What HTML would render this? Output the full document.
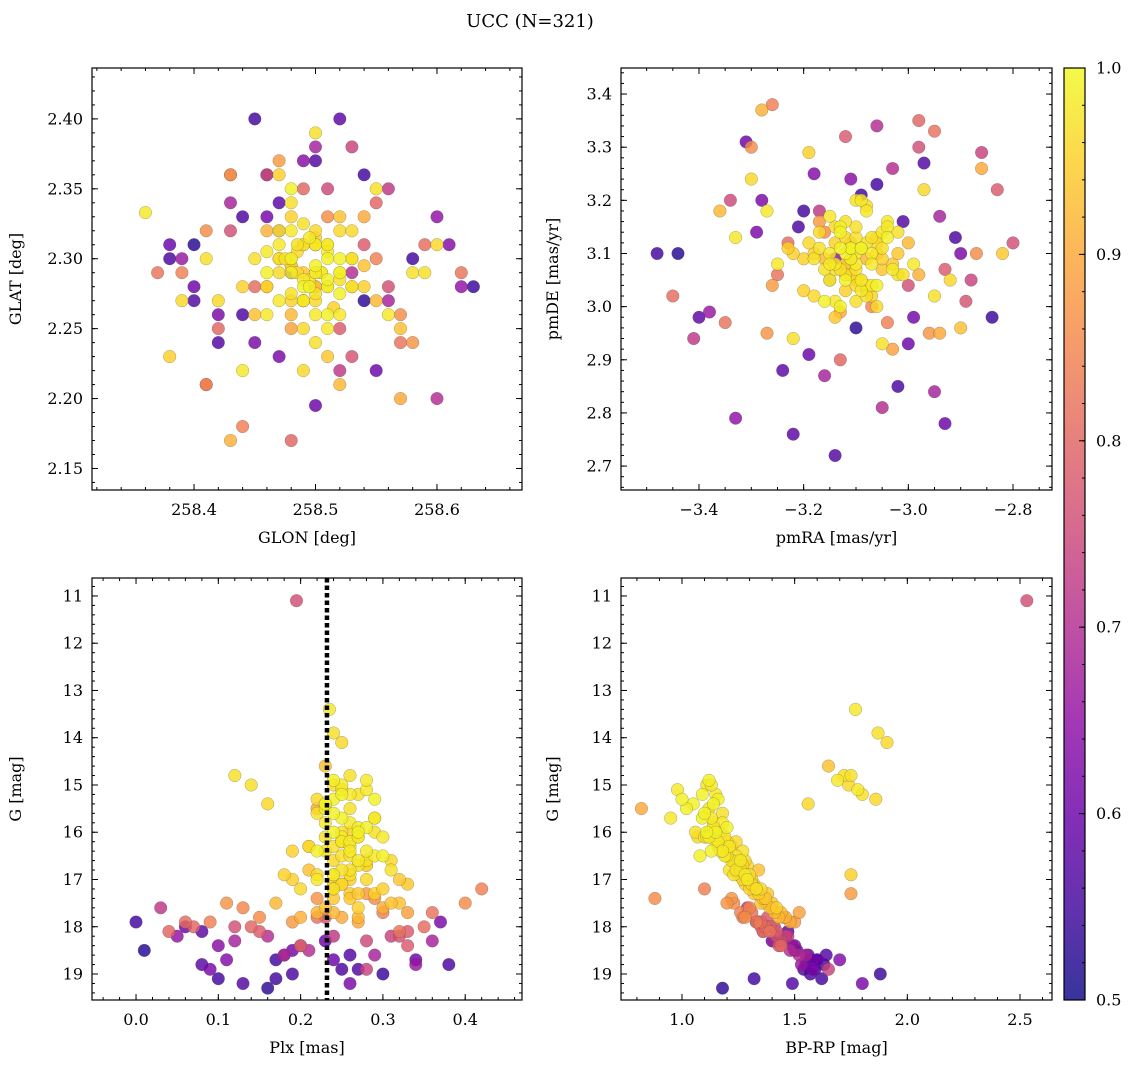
<!DOCTYPE html>
<html><head><meta charset="utf-8">
<style>
html,body{margin:0;padding:0;background:#fff;}
svg{display:block;font-family:"DejaVu Serif","Liberation Serif",serif;}
</style></head>
<body>
<svg id="fig" width="1136" height="1067" viewBox="0 0 1136 1067" xmlns="http://www.w3.org/2000/svg">
<defs>
<linearGradient id="cbgrad" x1="0" y1="1" x2="0" y2="0">
<stop offset="0" stop-color="#0d0887"/><stop offset="0.1" stop-color="#41049d"/><stop offset="0.2" stop-color="#6a00a8"/><stop offset="0.3" stop-color="#8f0da4"/><stop offset="0.4" stop-color="#b12a90"/><stop offset="0.5" stop-color="#cc4778"/><stop offset="0.6" stop-color="#e16462"/><stop offset="0.7" stop-color="#f2844b"/><stop offset="0.8" stop-color="#fca636"/><stop offset="0.9" stop-color="#fcce25"/><stop offset="1" stop-color="#f0f921"/>
</linearGradient>
</defs>
<text x="530" y="27" font-size="18" text-anchor="middle">UCC (N=321)</text>
</svg>
<script>
// member stars, field stars, then extra core members
const glon=[258.48,258.50,258.49,258.51,258.47,258.52,258.46,258.53,258.50,258.48,258.49,258.51,258.47,258.50,258.52,258.48,258.45,258.54,258.49,258.50,258.46,258.51,258.48,258.53,258.47,258.50,258.49,258.52,258.44,258.55,258.48,258.51,258.50,258.47,258.49,258.53,258.46,258.50,258.52,258.48,258.36,258.58,258.42,258.57,258.41,258.60,258.44,258.55,258.39,258.56,258.50,258.49,258.47,258.51,258.48,258.52,258.46,258.50,258.53,258.45,258.43,258.57,258.52,258.48,258.38,258.54,258.47,258.59,258.43,258.51,
258.45,258.40,258.56,258.62,258.38,258.52,258.47,258.58,258.43,258.50,258.41,258.54,258.60,258.44,258.49,258.37,258.55,258.42,258.53,258.63,258.46,258.39,258.57,258.51,258.44,258.48,258.61,258.42,258.54,258.47,258.50,258.40,258.56,258.43,258.52,258.59,258.45,258.38,258.55,258.49,258.41,258.53,258.46,258.58,258.44,258.51,258.62,258.40,258.48,258.55,258.43,258.57,258.47,258.52,258.39,258.50,258.45,258.60,258.42,258.54,258.49,258.46,258.53,258.41,258.56,
258.49,258.50,258.48,258.51,258.495,258.485,258.505,258.47,258.52,258.49,258.50,258.48,258.51,258.46,258.53,258.495,258.50,258.485,258.475,258.515,258.49,258.50,258.48,258.51,258.47,258.52,258.49,258.505,258.485,258.50,258.46,258.54,258.48,258.51,258.495,258.47,258.52,258.50,258.49,258.48];
const glat=[2.30,2.29,2.31,2.28,2.27,2.32,2.29,2.30,2.26,2.33,2.28,2.31,2.30,2.27,2.29,2.32,2.30,2.28,2.25,2.31,2.26,2.30,2.34,2.28,2.31,2.24,2.29,2.33,2.28,2.27,2.35,2.25,2.31,2.29,2.27,2.30,2.32,2.28,2.26,2.29,2.333,2.29,2.27,2.25,2.30,2.31,2.22,2.35,2.27,2.26,2.39,2.22,2.36,2.23,2.30,2.29,2.28,2.31,2.32,2.26,2.17,2.20,2.21,2.25,2.23,2.33,2.37,2.29,2.36,2.28,
2.40,2.31,2.35,2.28,2.31,2.40,2.23,2.30,2.34,2.37,2.21,2.27,2.20,2.33,2.35,2.29,2.22,2.26,2.38,2.28,2.36,2.30,2.24,2.33,2.18,2.29,2.31,2.25,2.36,2.32,2.195,2.27,2.27,2.36,2.25,2.31,2.24,2.30,2.34,2.37,2.21,2.29,2.33,2.24,2.26,2.35,2.29,2.28,2.17,2.30,2.32,2.26,2.34,2.22,2.29,2.38,2.28,2.33,2.24,2.31,2.27,2.36,2.23,2.32,2.28,
2.285,2.295,2.275,2.305,2.28,2.31,2.29,2.30,2.285,2.27,2.32,2.295,2.26,2.305,2.28,2.315,2.275,2.29,2.30,2.265,2.31,2.28,2.295,2.285,2.32,2.30,2.27,2.29,2.305,2.315,2.28,2.295,2.26,2.31,2.285,2.30,2.275,2.29,2.325,2.27];
const pmra=[-3.12,-3.10,-3.08,-3.15,-3.05,-3.18,-3.13,-3.02,-3.09,-3.20,-3.11,-3.07,-3.14,-3.06,-3.16,-3.04,-3.10,-3.12,-3.19,-3.03,-3.08,-3.13,-3.01,-3.17,-3.11,-3.05,-3.14,-3.09,-3.22,-3.00,-3.06,-3.15,-3.10,-3.12,-3.07,-3.18,-2.98,-3.13,-3.04,-3.11,-3.25,-2.95,-3.30,-2.90,-3.22,-2.97,-3.27,-3.05,-2.92,-3.33,-3.16,-3.08,-3.20,-3.02,-3.14,-3.10,-3.23,-2.99,-3.06,-3.12,-3.28,-2.86,-3.36,-3.03,-3.19,-2.94,-3.26,-3.10,-3.17,-2.82,
-3.48,-3.44,-3.41,-3.33,-3.31,-3.24,-3.28,-3.20,-3.16,-3.14,-3.12,-3.10,-3.06,-3.02,-2.98,-2.95,-2.93,-2.90,-2.86,-2.84,-2.80,-3.38,-3.35,-3.30,-3.26,-3.22,-3.18,-3.13,-3.09,-3.05,-3.00,-2.97,-2.94,-2.88,-2.83,-3.45,-3.29,-3.21,-3.15,-3.11,-3.07,-3.03,-2.99,-2.96,-2.91,-3.34,-3.25,-3.19,-3.12,-3.04,-2.98,-2.87,-3.40,-3.17,-3.08,-2.95,-3.23,-3.14,-3.01,-2.93,-3.27,-3.06,-2.89,-3.16,-3.00,
-3.11,-3.09,-3.13,-3.07,-3.12,-3.10,-3.14,-3.06,-3.08,-3.15,-3.11,-3.05,-3.13,-3.09,-3.17,-3.03,-3.10,-3.12,-3.08,-3.14,-3.06,-3.11,-3.16,-3.04,-3.09,-3.13,-3.07,-3.12,-3.10,-3.18,-3.05,-3.11,-3.08,-3.14,-3.02,-3.12,-3.09,-3.15,-3.07,-3.10];
const pmde=[3.10,3.08,3.12,3.05,3.14,3.02,3.15,3.06,3.20,3.09,3.11,3.04,3.07,3.13,3.01,3.16,3.10,3.03,3.12,3.08,3.18,3.00,3.06,3.14,3.09,3.11,2.98,3.05,3.10,3.12,3.04,3.17,3.07,3.13,3.02,3.09,3.06,2.99,3.15,3.11,3.08,3.02,3.24,2.96,2.94,3.22,3.18,2.93,3.05,3.13,3.07,3.19,3.03,3.10,3.15,3.01,3.11,3.08,3.00,3.06,3.37,3.26,3.18,2.92,3.29,2.95,3.04,3.20,3.16,3.10,
3.10,3.10,2.94,2.79,3.31,2.88,3.20,3.18,2.87,2.72,3.32,2.96,3.34,2.85,3.35,3.33,2.78,3.10,3.29,2.98,3.12,2.99,2.97,3.30,3.38,2.76,3.25,2.90,3.21,2.81,2.93,3.27,3.17,3.05,3.22,3.02,3.14,3.15,3.05,3.24,3.00,3.26,2.98,2.95,3.13,3.20,3.06,2.91,3.08,2.97,3.30,3.10,2.98,3.18,3.03,2.84,3.12,3.09,3.16,3.07,2.95,3.23,3.01,3.14,3.04,
3.09,3.11,3.07,3.10,3.05,3.13,3.08,3.12,3.04,3.10,3.06,3.09,3.14,3.03,3.11,3.07,3.15,3.08,3.02,3.12,3.10,3.06,3.09,3.13,3.05,3.11,3.08,3.16,3.04,3.10,3.07,3.12,3.09,3.01,3.14,3.06,3.11,3.08,3.13,3.05];
const plx=[0.24,0.26,0.22,0.28,0.25,0.21,0.30,0.27,0.24,0.19,0.23,0.26,0.29,0.25,0.22,0.27,0.31,0.24,0.20,0.26,0.28,0.23,0.25,0.21,0.29,0.26,0.24,0.32,0.27,0.22,0.25,0.30,0.23,0.28,0.26,0.24,0.20,0.27,0.25,0.29,0.235,0.24,0.25,0.23,0.26,0.24,0.25,0.27,0.22,0.28,0.12,0.16,0.18,0.33,0.31,0.14,0.19,0.29,0.27,0.21,0.30,0.25,0.17,0.33,0.26,0.22,0.28,0.24,0.19,0.32,
0.00,0.01,0.03,0.05,0.06,0.08,0.09,0.10,0.12,0.13,0.15,0.16,0.18,0.19,0.20,0.22,0.24,0.26,0.28,0.30,0.32,0.34,0.36,0.40,0.42,0.08,0.11,0.14,0.17,0.21,0.23,0.27,0.29,0.31,0.33,0.35,0.37,0.38,0.07,0.10,0.13,0.16,0.19,0.22,0.25,0.28,0.32,0.34,0.04,0.09,0.12,0.15,0.18,0.24,0.30,0.36,0.06,0.20,0.26,0.33,0.11,0.17,0.23,0.29,0.195,
0.25,0.24,0.26,0.23,0.27,0.25,0.28,0.24,0.26,0.22,0.25,0.29,0.24,0.27,0.23,0.26,0.25,0.28,0.24,0.30,0.26,0.23,0.27,0.25,0.29,0.24,0.26,0.28,0.22,0.25,0.27,0.31,0.24,0.26,0.25,0.28,0.23,0.27,0.26,0.24];
const gmag=[14.9,15.2,15.6,15.9,16.1,16.3,16.5,16.7,16.9,17.0,15.4,15.8,16.0,16.2,16.4,16.6,16.8,17.1,17.2,17.3,15.1,15.5,16.0,16.3,16.5,16.9,17.4,17.5,17.6,17.7,15.7,16.1,16.4,16.7,17.0,17.2,17.8,17.9,16.2,15.3,13.4,13.9,14.1,14.6,14.8,15.0,15.1,15.2,15.3,14.9,14.8,15.4,16.9,17.1,16.6,15.0,16.4,15.7,16.1,16.8,17.6,17.8,17.5,17.7,16.0,15.5,17.3,16.3,17.9,17.0,
17.9,18.5,17.6,18.2,18.0,18.8,18.9,19.1,18.3,19.2,18.1,19.3,18.6,19.0,18.4,17.8,18.7,19.2,18.9,19.0,18.2,18.8,17.7,17.5,17.2,18.1,18.7,18.0,19.1,18.5,18.3,18.9,18.6,18.2,18.4,18.0,17.9,18.8,18.0,18.4,17.6,18.2,18.5,17.4,18.9,18.3,18.1,18.7,18.1,17.9,18.0,17.8,18.6,18.2,17.7,18.3,17.9,18.4,18.6,18.1,17.5,18.7,17.8,17.4,11.1,
15.0,15.3,15.5,15.8,16.0,16.2,16.4,16.6,16.8,17.0,17.1,17.3,15.6,15.9,16.1,16.3,16.5,16.7,16.9,17.2,17.4,17.6,17.8,15.2,15.7,16.0,16.2,16.6,16.9,17.1,17.3,17.5,17.7,16.4,16.8,17.0,15.4,16.1,16.5,17.2];
const bprp=[1.12,1.15,1.18,1.20,1.10,1.22,1.08,1.25,1.28,1.30,1.05,1.14,1.17,1.24,1.13,1.26,1.21,1.32,1.35,1.38,0.98,1.02,1.06,1.16,1.19,1.23,1.36,1.40,1.42,1.44,1.09,1.11,1.27,1.29,1.31,1.33,1.46,1.48,1.15,1.00,1.77,1.87,1.91,1.65,1.72,1.74,1.78,1.80,1.86,1.69,1.75,1.56,1.75,1.30,1.28,1.11,1.20,0.95,1.07,1.34,1.40,1.45,1.37,1.52,1.12,0.82,1.75,1.18,1.50,1.27,
1.33,1.50,1.29,1.45,1.38,1.55,1.58,1.62,1.41,1.49,1.36,1.18,1.52,1.57,1.44,1.27,1.60,1.80,1.65,1.88,1.42,1.53,1.31,1.23,1.10,1.47,1.70,1.35,1.32,1.48,1.40,1.59,1.55,1.46,1.43,1.37,1.34,1.63,1.39,1.50,1.30,1.46,1.51,1.22,1.54,1.44,1.39,1.57,1.36,1.33,1.41,1.28,1.56,1.47,1.26,1.45,1.35,1.49,1.64,1.42,1.20,1.60,1.38,0.88,2.53,
1.13,1.16,1.12,1.18,1.15,1.20,1.17,1.23,1.26,1.29,1.31,1.34,1.10,1.14,1.19,1.21,1.24,1.27,1.30,1.33,1.37,1.39,1.43,1.09,1.13,1.11,1.16,1.22,1.25,1.28,1.32,1.35,1.41,1.18,1.24,1.27,1.14,1.12,1.20,1.30];
const prob=[.99,.98,.97,.99,.98,.96,.99,.97,.98,.95,.99,.98,.97,.96,.99,.98,.97,.95,.96,.94,.98,.99,.97,.96,.98,.97,.94,.93,.95,.92,.99,.98,.97,.96,.95,.97,.91,.90,.98,.99,.98,.97,.96,.93,.97,.96,.98,.97,.96,.98,.97,.96,.95,.94,.96,.97,.95,.98,.96,.93,.91,.90,.92,.89,.95,.90,.88,.97,.88,.94,
.55,.52,.72,.65,.60,.58,.62,.55,.68,.57,.78,.53,.70,.56,.80,.82,.60,.62,.74,.54,.76,.66,.82,.86,.84,.58,.63,.80,.55,.70,.60,.57,.68,.74,.78,.81,.62,.56,.80,.64,.85,.70,.61,.87,.56,.75,.82,.60,.80,.84,.76,.86,.58,.72,.84,.68,.81,.65,.57,.78,.87,.55,.77,.86,.76,
.98,.99,.97,.98,.99,.97,.98,.96,.97,.98,.96,.95,.99,.98,.97,.98,.97,.96,.97,.95,.94,.93,.92,.99,.98,.99,.98,.97,.96,.95,.94,.93,.92,.98,.97,.96,.99,.98,.97,.95];
const plxLine=0.232;
const xTicks1=[258.4,258.5,258.6], yTicks1=[2.15,2.20,2.25,2.30,2.35,2.40];
const xTicks2=[-3.4,-3.2,-3.0,-2.8], yTicks2=[2.7,2.8,2.9,3.0,3.1,3.2,3.3,3.4];
const xTicks3=[0.0,0.1,0.2,0.3,0.4], yTicks3=[11,12,13,14,15,16,17,18,19];
const xTicks4=[1.0,1.5,2.0,2.5], yTicks4=yTicks3;
const cbTicks=[0.5,0.6,0.7,0.8,0.9,1.0];

const NS="http://www.w3.org/2000/svg";
const svg=document.getElementById('fig');
function mk(tag,attrs,parent){const e=document.createElementNS(NS,tag);for(const k in attrs)e.setAttribute(k,attrs[k]);(parent||svg).appendChild(e);return e;}
const stops=[[0,13,8,135],[.1,65,4,157],[.2,106,0,168],[.3,143,13,164],[.4,177,42,144],[.5,204,71,120],[.6,225,100,98],[.7,242,132,75],[.8,252,166,54],[.9,252,206,37],[1,240,249,33]];
function plasma(v){let t=Math.max(0,Math.min(1,(v-0.5)/0.5));for(let i=1;i<stops.length;i++){if(t<=stops[i][0]){const a=stops[i-1],b=stops[i],f=(t-a[0])/(b[0]-a[0]);return `rgb(${Math.round(a[1]+f*(b[1]-a[1]))},${Math.round(a[2]+f*(b[2]-a[2]))},${Math.round(a[3]+f*(b[3]-a[3]))})`;}}return 'rgb(240,249,33)';}
function fmt(v,d){const s=v.toFixed(d);return s.startsWith('-')?'\u2212'+s.slice(1):s;}

const FS=16;
const panels=[
 {id:'glon-glat',L:92,R:522,T:68,B:490,x0:258.316,x1:258.670,y0:2.1346,y1:2.4364,inv:false,xs:glon,ys:glat,xt:xTicks1,yt:yTicks1,xd:1,yd:2,xmin:0.02,ymin:0.01,xl:'GLON [deg]',yl:'GLAT [deg]'},
 {id:'pmra-pmde',L:621,R:1052,T:68,B:490,x0:-3.549,x1:-2.7255,y0:2.655,y1:3.449,inv:false,xs:pmra,ys:pmde,xt:xTicks2,yt:yTicks2,xd:1,yd:1,xmin:0.05,ymin:0.02,xl:'pmRA [mas/yr]',yl:'pmDE [mas/yr]'},
 {id:'plx-g',L:92,R:522,T:578,B:1000,x0:-0.0535,x1:0.469,y0:10.62,y1:19.55,inv:true,xs:plx,ys:gmag,xt:xTicks3,yt:yTicks3,xd:1,yd:0,xmin:0.02,ymin:0.2,xl:'Plx [mas]',yl:'G [mag]'},
 {id:'bprp-g',L:621,R:1052,T:578,B:1000,x0:0.7294,x1:2.642,y0:10.62,y1:19.55,inv:true,xs:bprp,ys:gmag,xt:xTicks4,yt:yTicks4,xd:1,yd:0,xmin:0.1,ymin:0.2,xl:'BP-RP [mag]',yl:'G [mag]'}
];
const order=prob.map((p,i)=>i).sort((a,b)=>prob[a]-prob[b]);
panels.forEach((p,pi)=>{
 const sx=v=>p.L+(v-p.x0)/(p.x1-p.x0)*(p.R-p.L);
 const sy=v=>p.inv? p.T+(v-p.y0)/(p.y1-p.y0)*(p.B-p.T) : p.B-(v-p.y0)/(p.y1-p.y0)*(p.B-p.T);
 const g=mk('g',{});
 
 
 const cp=mk('clipPath',{id:'clip'+pi},g);
 mk('rect',{x:p.L,y:p.T,width:p.R-p.L,height:p.B-p.T},cp);
 const pts=mk('g',{'clip-path':`url(#clip${pi})`},g);
 
 
 const n=Math.min(p.xs.length,p.ys.length,prob.length);
 order.forEach(i=>{ if(i>=n) return;
  const c=mk('circle',{cx:sx(p.xs[i]).toFixed(1),cy:sy(p.ys[i]).toFixed(1),r:6.3,fill:plasma(prob[i]),'fill-opacity':0.82,stroke:'rgba(70,70,70,0.45)','stroke-width':0.5},pts);
  
  
 });
 if(pi===2){
  const ln=mk('line',{x1:sx(plxLine),x2:sx(plxLine),y1:p.T,y2:p.B,stroke:'#000','stroke-width':4.5,'stroke-dasharray':'4.5 3'},g);
  
  
 }
 const tk=mk('g',{stroke:'#000','stroke-width':1},g);
 const xr=[Math.min(p.x0,p.x1),Math.max(p.x0,p.x1)];
 for(let v=Math.ceil(xr[0]/p.xmin-1e-6)*p.xmin; v<=xr[1]+1e-9; v+=p.xmin){const x=sx(v);mk('line',{x1:x,x2:x,y1:p.B,y2:p.B-3},tk);mk('line',{x1:x,x2:x,y1:p.T,y2:p.T+3},tk);}
 for(let v=Math.ceil(p.y0/p.ymin-1e-6)*p.ymin; v<=p.y1+1e-9; v+=p.ymin){const y=sy(v);mk('line',{x1:p.L,x2:p.L+3,y1:y,y2:y},tk);mk('line',{x1:p.R,x2:p.R-3,y1:y,y2:y},tk);}
 p.xt.forEach(v=>{const x=sx(v);mk('line',{x1:x,x2:x,y1:p.B,y2:p.B-6},tk);mk('line',{x1:x,x2:x,y1:p.T,y2:p.T+6},tk);
  const t=mk('text',{x:x,y:p.B+25,'font-size':FS,'text-anchor':'middle'},g);t.textContent=fmt(v,p.xd);
  
  });
 p.yt.forEach(v=>{const y=sy(v);mk('line',{x1:p.L,x2:p.L+6,y1:y,y2:y},tk);mk('line',{x1:p.R,x2:p.R-6,y1:y,y2:y},tk);
  const t=mk('text',{x:p.L-9,y:y+5.5,'font-size':FS,'text-anchor':'end'},g);t.textContent=fmt(v,p.yd);
  
  });
 const fr=mk('rect',{x:p.L,y:p.T,width:p.R-p.L,height:p.B-p.T,fill:'none',stroke:'#000','stroke-width':1.2},g);
 
 
 const xl=mk('text',{x:(p.L+p.R)/2,y:p.B+53,'font-size':FS,'text-anchor':'middle'},g);xl.textContent=p.xl;
 
 
 const yx=p.L-(pi%2===0?71:63), yy=(p.T+p.B)/2;
 const yl=mk('text',{x:yx,y:yy,'font-size':FS,'text-anchor':'middle',transform:`rotate(-90 ${yx} ${yy})`},g);yl.textContent=p.yl;
 
 
});
const cb=mk('g',{});


const cbL=1064,cbR=1085,cbT=68,cbB=1000;
const cy=v=>cbB-(v-0.5)/0.5*(cbB-cbT);
mk('rect',{x:cbL,y:cbT,width:cbR-cbL,height:cbB-cbT,fill:'url(#cbgrad)','fill-opacity':0.82},cb);
mk('rect',{x:cbL,y:cbT,width:cbR-cbL,height:cbB-cbT,fill:'none',stroke:'#000','stroke-width':1.2},cb);
for(let v=0.5; v<=1.0001; v+=0.02){const y=cy(v);mk('line',{x1:cbR,x2:cbR-3,y1:y,y2:y,stroke:'#000'},cb);}
cbTicks.forEach(v=>{const y=cy(v);mk('line',{x1:cbR,x2:cbR-6,y1:y,y2:y,stroke:'#000'},cb);
 const t=mk('text',{x:cbR+11,y:y+5.5,'font-size':FS},cb);t.textContent=v.toFixed(1);
 
 });
</script>
</body></html>
